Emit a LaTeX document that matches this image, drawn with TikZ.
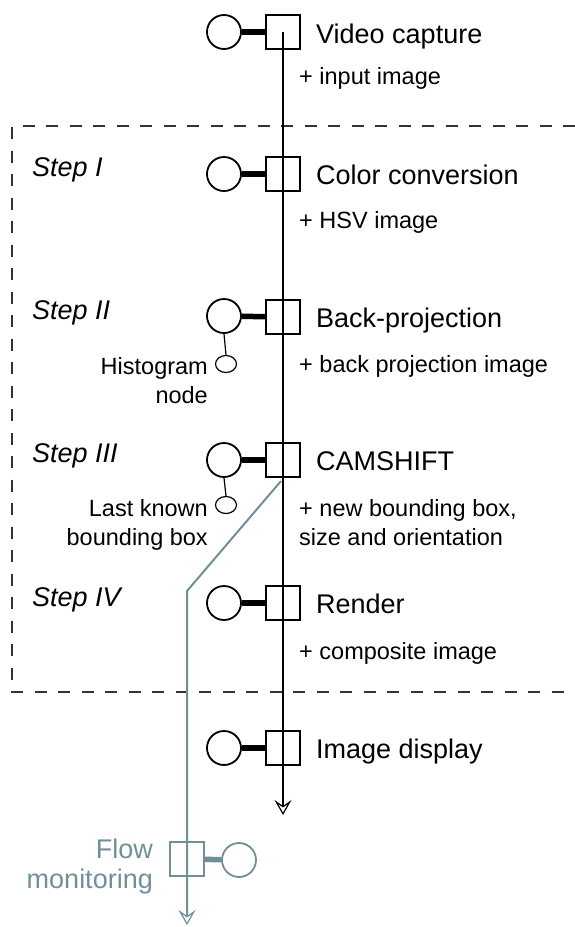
\documentclass[tikz,border=0pt]{standalone}
\usepackage{fontspec}
\setmainfont{Liberation Sans}
\usetikzlibrary{arrows.meta,shapes.geometric}
\definecolor{flowgray}{HTML}{6F9096}

\newcommand{\mainsize}{\fontsize{27}{30}\selectfont}
\newcommand{\subsize}{\fontsize{23.5}{29}\selectfont}

\tikzset{
  flowtip/.tip={Stealth[open,length=15pt,width=17pt,inset=6pt,line width=1.2pt]}
}

\begin{document}
\begin{tikzpicture}[x=1pt,y=1pt,yscale=-1]

      \useasboundingbox (0,0) rectangle (575,927);

      % dashed frame round the steps
      \draw[black!80,line width=1.4pt,dash pattern=on 12pt off 11.5pt]
        (575,126) -- (12,126) -- (12,692) -- (575,692);

      \begin{scope}[every node/.style={draw,line width=1.8pt,minimum size=34pt,inner sep=0pt}]
        \node[circle] (capc)   at (224,32)  {};
        \node (cap)            at (283,32)  {};
        \node[circle] (convc)  at (224,174) {};
        \node (conv)           at (283,174) {};
        \node[circle] (projc)  at (224,316) {};
        \node (proj)           at (283,317) {};
        \node[circle] (shiftc) at (224,460) {};
        \node (shift)          at (283,460) {};
        \node[circle] (rendc)  at (224,603) {};
        \node (rend)           at (283,603) {};
        \node[circle] (dispc)  at (224,748) {};
        \node (disp)           at (283,748) {};
      \end{scope}

      \begin{scope}[every node/.style={draw,ellipse,line width=1.2pt,minimum width=21pt,minimum height=17pt,inner sep=0pt}]
        \node (histc) at (226,364) {};
        \node (boxc)  at (226,505) {};
      \end{scope}

      \begin{scope}[every edge/.style={draw,line width=5.5pt}]
        \path (capc)   edge (cap);
        \path (convc)  edge (conv);
        \path (projc)  edge (proj);
        \path (shiftc) edge (shift);
        \path (rendc)  edge (rend);
        \path (dispc)  edge (disp);
      \end{scope}

      \draw[line width=1.2pt] (projc.south) -- (histc.north);
      \draw[line width=1.2pt] (shiftc.south) -- (boxc.north);

      % main flow
      \coordinate (mainend) at (283,815);
      \draw[line width=2pt,-flowtip] (cap.center) -- (mainend);

      % monitoring branch
      \begin{scope}[flowgray]
        \node[draw,line width=1.8pt,minimum size=34pt,inner sep=0pt] (flow) at (187,859) {};
        \node[draw,circle,line width=1.8pt,minimum size=34pt,inner sep=0pt] (flowc) at (239,860) {};
        \path (flow) edge[draw,line width=5.5pt] (flowc);
        \coordinate (tap) at (281,481);
        \coordinate (bend) at (187,591);
        \coordinate (flowend) at (187,925);
        \draw[line width=2pt,-flowtip] (tap) -- (bend) -- (flowend);
        \node[anchor=north east,align=right,inner sep=0pt,font=\mainsize] (flowlbl)
          at (153,839) {Flow\\monitoring};
      \end{scope}

      % stage names
      \begin{scope}[every node/.style={anchor=base west,inner sep=0pt,font=\mainsize}]
        \node (capl)   at (316,43)  {Video capture};
        \node (convl)  at (316,184) {Color conversion};
        \node (projl)  at (316,327) {Back-projection};
        \node (shiftl) at (316,470) {CAMSHIFT};
        \node (rendl)  at (316,613) {Render};
        \node (displ)  at (316,758) {Image display};
      \end{scope}

      % outputs of each stage
      \begin{scope}[every node/.style={anchor=base west,inner sep=0pt,font=\subsize}]
        \node (capo)  at (299,84)  {+ input image};
        \node (convo) at (299,228) {+ HSV image};
        \node (projo) at (299,372) {+ back projection image};
        \node (rendo) at (299,659) {+ composite image};
      \end{scope}
      \node[anchor=north west,align=left,inner sep=0pt,font=\subsize] (shifto)
        at (299,499) {+ new bounding box,\\size and orientation};

      % step names
      \begin{scope}[every node/.style={anchor=base west,inner sep=0pt,font=\mainsize\itshape}]
        \node (step1) at (32,176) {Step I};
        \node (step2) at (32,319) {Step II};
        \node (step3) at (32,462) {Step III};
        \node (step4) at (32,606) {Step IV};
      \end{scope}

      \begin{scope}[every node/.style={anchor=north east,align=right,inner sep=0pt,font=\subsize}]
        \node (histl) at (208,357) {Histogram\\node};
        \node (boxl)  at (208,499) {Last known\\bounding box};
      \end{scope}

    \end{tikzpicture}
\end{document}
